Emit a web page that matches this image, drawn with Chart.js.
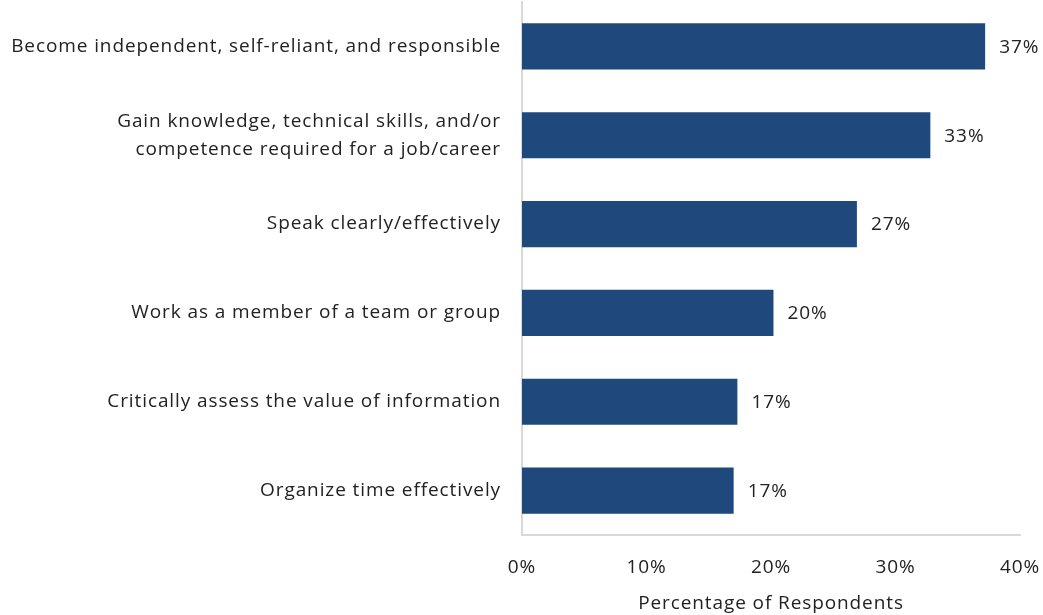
<!DOCTYPE html>
<html>
<head>
<meta charset="utf-8">
<script src="https://cdn.jsdelivr.net/npm/chart.js@4.4.1/dist/chart.umd.min.js"></script>
<style>
  html, body { margin: 0; padding: 0; background: #fff; }
  #wrap { width: 1043px; height: 615px; position: relative; }
</style>
</head>
<body>
<div id="wrap"><canvas id="skillsChart"></canvas></div>
<script>
const categories = [
  "Become independent, self-reliant, and responsible",
  ["Gain knowledge, technical skills, and/or", "competence required for a job/career"],
  "Speak clearly/effectively",
  "Work as a member of a team or group",
  "Critically assess the value of information",
  "Organize time effectively"
];
const percentages = [37.2, 32.8, 26.9, 20.2, 17.3, 17.0];
const tickValues = [0, 10, 20, 30, 40];

const fontFamily = "'Open Sans', sans-serif";
const fontSize = 19;
const textColor = "#222222";

// slightly wider text so Open Sans takes up about the room Calibri did
const spacing = {
  id: "spacing",
  beforeUpdate(chart) { chart.ctx.letterSpacing = "0.9px"; },
  beforeDraw(chart) { chart.ctx.letterSpacing = "0.9px"; }
};

// draws the "37%" style labels at the end of each bar
const barLabels = {
  id: "barLabels",
  afterDatasetsDraw(chart) {
    const ctx = chart.ctx;
    const meta = chart.getDatasetMeta(0);
    ctx.save();
    ctx.font = fontSize + "px " + fontFamily;
    ctx.fillStyle = textColor;
    ctx.textAlign = "left";
    ctx.textBaseline = "middle";
    meta.data.forEach((bar, i) => {
      ctx.fillText(Math.round(percentages[i]) + "%", bar.x + 14, bar.y + 1);
    });
    ctx.restore();
  }
};

const ctx = document.getElementById("skillsChart").getContext("2d");
new Chart(ctx, {
  type: "bar",
  data: {
    labels: categories,
    datasets: [
      {
        data: percentages,
        backgroundColor: "#1F497D",
        borderWidth: 0,
        barPercentage: 0.52,
        categoryPercentage: 1
      }
    ]
  },
  options: {
    indexAxis: "y",
    responsive: true,
    maintainAspectRatio: false,
    animation: false,
    layout: { padding: { top: 2, right: 23, bottom: 0, left: 0 } },
    plugins: {
      legend: { display: false },
      tooltip: { enabled: false }
    },
    scales: {
      x: {
        min: 0,
        max: 40,
        afterBuildTicks(axis) {
          axis.ticks = tickValues.map(v => ({ value: v }));
        },
        afterFit(axis) {
          axis.height = 80;
          axis.paddingLeft = 0;
          axis.paddingRight = 0;
        },
        grid: { display: false, drawTicks: false },
        border: { display: true, color: "#d9d9d9", width: 2 },
        ticks: {
          padding: 21,
          color: textColor,
          font: { family: fontFamily, size: fontSize },
          callback: v => v + "%"
        },
        title: {
          display: true,
          text: "Percentage of Respondents",
          color: textColor,
          font: { family: fontFamily, size: fontSize },
          padding: { top: 0, bottom: 0 }
        }
      },
      y: {
        afterFit(axis) {
          axis.width = 522;
          axis.paddingTop = 0;
          axis.paddingBottom = 0;
        },
        grid: { display: false, drawTicks: false },
        border: { display: true, color: "#d9d9d9", width: 2 },
        ticks: {
          padding: 21,
          color: textColor,
          font: { family: fontFamily, size: fontSize, lineHeight: "28px" }
        }
      }
    }
  },
  plugins: [spacing, barLabels]
});
</script>
</body>
</html>
